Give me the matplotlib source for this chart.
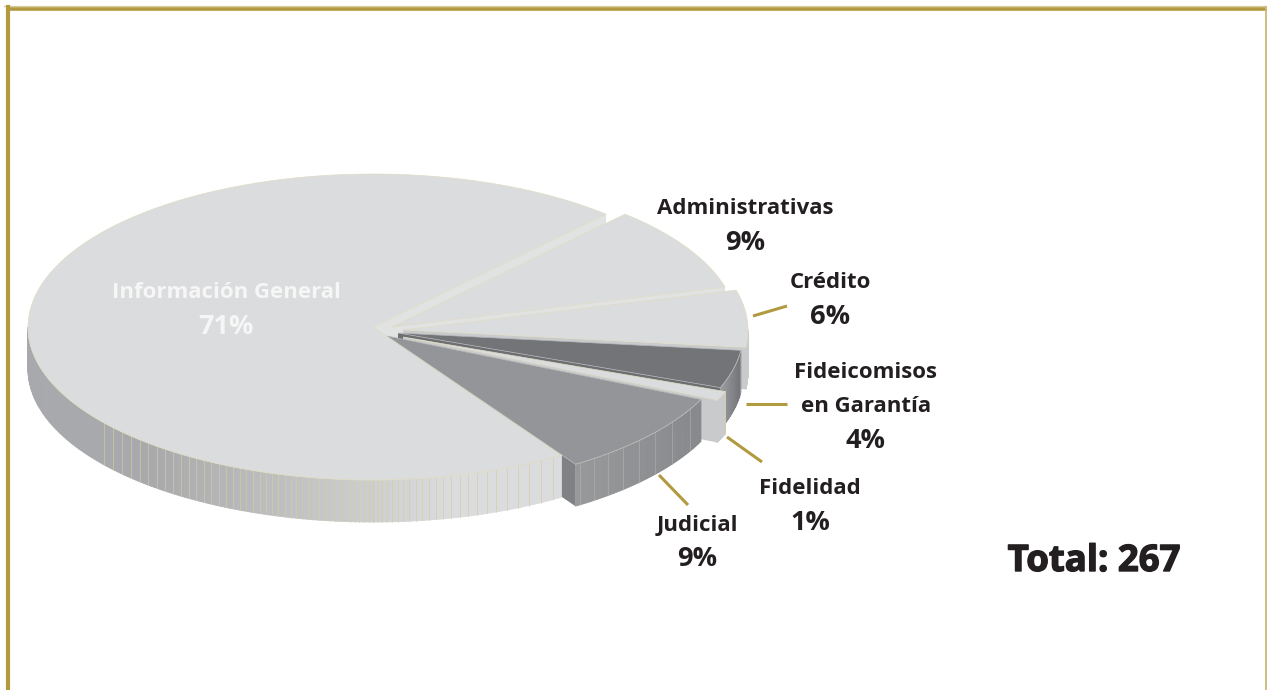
import numpy as np
import matplotlib
matplotlib.use('Agg')
import matplotlib.pyplot as plt
import matplotlib.patheffects as pe
from matplotlib.colors import to_rgb

# porcentajes
names = ['Información General', 'Administrativas', 'Crédito',
         'Fideicomisos\nen Garantía', 'Fidelidad', 'Judicial']
values = [71, 9, 6, 4, 1, 9]
total = 267

# estilo de cada porcion, mismo orden que names
TOPS = ['#dbdcdd', '#dbdcdd', '#dbdcdd', '#737477', '#dbdcdd', '#939598']
FACES = ['#e1e2e2', '#e1e2e2', '#c9cacc', '#6d6e71', '#c9cacc', '#808184']
CENTERS = [(373, 327), (392, 327), (403, 330), (398, 333), (403, 337), (387, 336)]
LABEL_X = [226, 745, 830, 866, 810, 697]
LABEL_Y = [292, 208, 283, 372, 488, 525]   # primera linea de cada rotulo
LABEL_COLORS = ['#f6f6f6', '#231f20', '#231f20', '#231f20', '#231f20', '#231f20']

LEADERS = [((753, 787), (316, 306)), ((746, 787), (404, 404)),
           ((727, 762), (437, 462)), ((659, 688), (475, 505))]

GOLD = '#b19a3f'
EDGE = '#e0dcc4'
RX, RY, DEPTH = 345, 153, 42
START = 47.5

fig = plt.figure(figsize=(12.67, 6.9), dpi=100)
ax = fig.add_axes([0, 0, 1, 1])
ax.set_xlim(0, 1267)
ax.set_ylim(690, 0)
ax.axis('off')

order = [0]


def z():
    order[0] += 1
    return order[0]


def mix(c1, c2, f):
    f = np.clip(f, 0, 1)
    return tuple((1 - f) * np.array(to_rgb(c1)) + f * np.array(to_rgb(c2)))


def point(c, deg):
    t = np.radians(deg)
    return c[0] + RX * np.cos(t), c[1] - RY * np.sin(t)


def draw_top(c, a1, a2, color, edge=EDGE):
    t = np.linspace(a1, a2, 120)
    x, y = point(c, t)
    ax.fill(np.r_[c[0], x], np.r_[c[1], y], facecolor=color, edgecolor=edge, lw=0.5, zorder=z())


def draw_face(c, a, color):
    # cara del corte, baja DEPTH desde el radio
    x, y = point(c, a)
    ax.fill([c[0], x, x, c[0]], [c[1], y, y + DEPTH, c[1] + DEPTH],
            facecolor=color, edgecolor='none', zorder=z())


def draw_wall(c, a1, a2, shade, stripe, steps=160):
    # pared exterior, solo la mitad de adelante
    lo, hi = max(a1, 180), min(a2, 360)
    if hi <= lo:
        return
    t = np.linspace(lo, hi, steps + 1)
    x, y = point(c, t)
    for i in range(steps):
        col = shade(x[i])
        ax.fill([x[i], x[i + 1], x[i + 1], x[i]],
                [y[i], y[i + 1], y[i + 1] + DEPTH, y[i] + DEPTH],
                facecolor=col, edgecolor=col, lw=0.6, zorder=z())
    # facetas verticales
    lines = []
    cur = c[0]
    while cur < x.max():
        lines.append(cur)
        cur += 4.5 + 8.5 * abs(cur - c[0]) / 180
    cur = c[0]
    while cur > x.min():
        lines.append(cur)
        cur -= 4.5 + 5 * abs(cur - c[0]) / 280
    for lx in lines:
        if stripe[1] <= lx <= stripe[2] and x.min() < lx < x.max():
            ly = np.interp(lx, x, y)
            ax.plot([lx, lx], [ly, ly + DEPTH], color=stripe[0], lw=0.5, alpha=stripe[3], zorder=z())
    ax.plot(x, y, color=EDGE, lw=0.5, zorder=z())


# angulos en sentido horario desde la primera porcion de la derecha
edges = START - np.cumsum([0] + values[1:]) * 360 / sum(values)

info_wall = lambda px: mix('#a8a9ac', '#dbdcdd', (px - 150) / 300)
walls = {
    2: (lambda px: '#c9cacc', (EDGE, 0, 0, 0)),
    3: (lambda px: mix('#a7a9ac', '#737477', (px - 715) / 26), ('#c8c9cb', 700, 745, 0.5)),
    4: (lambda px: '#c9cacc', ('#d6cc9f', 0, 2000, 1)),
    5: (lambda px: mix('#98999b', '#87888b', (px - 573) / 130), ('#bcbdbf', 573, 702, 0.6)),
}

# la cara del corte de Informacion General queda casi tapada por lo demas
draw_face(CENTERS[0], START, FACES[0])

for i in range(1, 6):
    a1, a2 = edges[i], edges[i - 1]
    c = CENTERS[i]
    draw_face(c, a1, FACES[i])
    if i in walls:
        draw_wall(c, a1 + 360, a2 + 360, walls[i][0], walls[i][1], steps=60)
    draw_top(c, a1, a2, TOPS[i], edge=EDGE if TOPS[i] == '#dbdcdd' else '#b5b6b8')

# porcion grande al final
draw_wall(CENTERS[0], 180, edges[5] + 360, info_wall, ('#d6cc9f', 100, 560, 0.9))
draw_top(CENTERS[0], edges[5], START - 360, TOPS[0])

for xs, ys in LEADERS:
    ax.plot(xs, ys, color=GOLD, lw=2.2, solid_capstyle='butt', zorder=z())

STEP = 34.5
for i, (name, val) in enumerate(zip(names, values)):
    parts = name.split('\n')
    for j, part in enumerate(parts):
        ax.text(LABEL_X[i], LABEL_Y[i] + STEP * j, part, ha='center', va='center',
                family='Open Sans', fontweight='bold', fontsize=16, color=LABEL_COLORS[i], zorder=z())
    ax.text(LABEL_X[i], LABEL_Y[i] + STEP * len(parts), f'{val}%', ha='center', va='center',
            family='Open Sans', fontweight='bold', fontsize=19.5, color=LABEL_COLORS[i], zorder=z())

total_txt = ax.text(1094, 561, f'Total: {total}', ha='center', va='center', family='Open Sans',
                    fontweight='bold', fontsize=26.3, color='#231f20', zorder=z())
total_txt.set_path_effects([pe.withStroke(linewidth=1.0, foreground='#231f20')])

# marco dorado
ax.plot([4, 1267], [5.5, 5.5], color='#d6cc9f', lw=0.9, zorder=z())
ax.plot([8, 1265], [8.5, 8.5], color=GOLD, lw=2.6, zorder=z())
ax.plot([8, 8], [7, 690], color=GOLD, lw=3, zorder=z())
ax.plot([1265.5, 1265.5], [7, 690], color='#cdb877', lw=1.3, zorder=z())

fig.savefig('out.png', dpi=100, facecolor='white')
